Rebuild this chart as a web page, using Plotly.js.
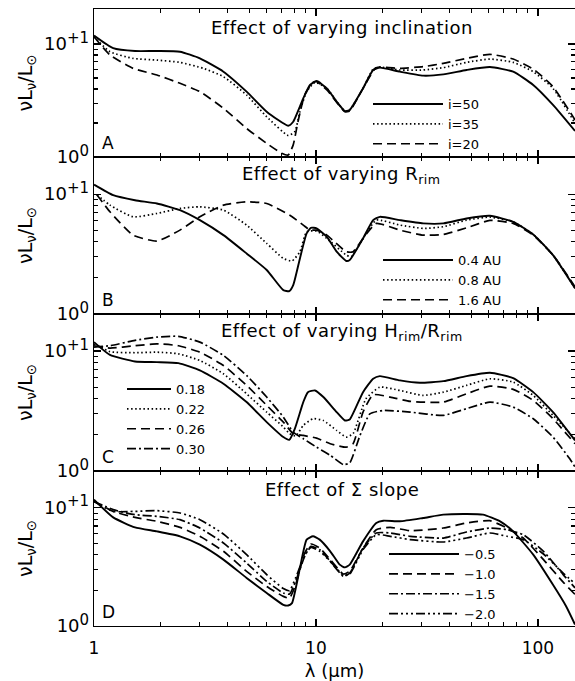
<!DOCTYPE html>
<html><head><meta charset="utf-8">
<script src="https://cdn.plot.ly/plotly-3.0.1.min.js"></script>
<style>html,body{margin:0;padding:0;background:#fff}#chart{width:575px;height:681px}</style>
</head><body><div id="chart"></div>
<script>
// ---------- Panel A: inclination ----------
const lamA50 = [1.0,1.22,1.53,1.92,2.44,3.0,3.83,4.87,6.0,7.5,7.9,8.77,9.4,10.07,11.2,12.4,13.5,14.2,16.3,18.1,19.4,23.9,30.4,37.5,47.7,60.8,77.4,95.3,117,147];
const A_i50  = [11.9,9.2,8.67,8.67,8.55,7.46,5.69,3.79,2.52,1.89,2.05,3.30,4.34,4.7,4.05,3.09,2.55,2.61,4.05,5.89,6.18,5.69,5.25,5.39,5.89,6.26,5.69,4.34,2.89,1.70];
const lamA35 = [1.0,1.18,1.5,1.92,2.44,3.11,3.83,4.87,6.0,7.5,8.03,8.47,9.08,9.9,11.2,12.4,13.5,14.2,16.3,18.1,19.4,23.9,30.4,37.5,47.7,60.8,77.4,95.3,117,147];
const A_i35  = [11.6,8.55,7.46,7.21,6.88,6.09,5.14,3.54,2.27,1.55,1.68,2.52,3.79,4.58,4.05,3.09,2.55,2.61,4.05,6.0,6.26,5.89,5.89,6.18,6.88,7.36,6.88,5.69,4.05,1.99];
const lamA20 = [1.0,1.18,1.5,1.92,2.44,3.0,3.83,4.87,6.0,7.0,7.5,7.9,8.3,8.9,9.7,10.07,11.2,13.5,14.2,16.3,18.7,23.9,30.4,37.5,47.7,60.8,77.4,95.3,117,147];
const A_i20  = [11.6,8.0,6.09,5.32,4.49,3.79,2.70,1.79,1.32,1.08,1.04,1.28,2.05,3.54,4.58,4.64,3.92,2.52,2.55,4.05,6.18,6.09,6.30,6.74,7.46,8.1,7.36,6.0,4.19,2.13];
const labelsA = ["i=50","i=35","i=20"];

// ---------- Panel B: R_rim ----------
const lamB04 = [1.0,1.22,1.53,1.92,2.44,3.0,3.83,4.87,6.0,7.13,7.58,7.9,8.47,9.08,9.5,10.07,11.2,12.4,13.7,14.2,16.3,18.1,19.4,23.9,30.4,37.5,47.7,60.8,77.4,95.3,117,147];
const B_04   = [12.0,9.8,8.9,8.36,7.36,6.07,4.55,3.2,2.33,1.58,1.55,1.74,2.91,4.7,5.24,5.18,4.41,3.31,2.77,2.82,4.27,6.07,6.47,6.07,5.70,5.70,6.27,6.6,5.88,4.61,3.10,1.64];
const lamB08 = [1.03,1.18,1.5,1.92,2.44,3.0,3.83,4.87,6.0,7.13,7.8,8.47,9.08,10.07,11.2,13.7,14.4,16.3,18.7,23.9,30.4,37.5,47.7,60.8,77.4,95.3,117,147];
const B_08   = [9.9,8.1,6.47,6.9,7.6,7.84,7.36,5.52,3.88,2.91,2.77,3.31,4.85,4.92,4.27,3.1,3.0,4.27,6.07,5.52,5.18,5.35,6.07,6.43,5.88,4.61,3.10,1.64];
const lamB16 = [1.03,1.18,1.5,1.92,2.44,3.0,3.83,4.87,6.0,7.6,8.77,9.4,10.07,11.2,13.7,14.7,16.3,18.7,23.9,30.4,37.5,47.7,60.8,77.4,95.3,117,147];
const B_16   = [9.9,7.13,4.55,4.06,5.01,6.47,8.1,8.63,8.36,6.7,5.52,5.01,5.01,4.55,3.31,3.31,4.27,5.70,5.01,4.55,4.61,5.24,6.04,5.70,4.55,3.10,1.69];
const labelsB = ["0.4 AU","0.8 AU","1.6 AU"];

// ---------- Panel C: H_rim/R_rim ----------
const lamC18 = [1.0,1.18,1.53,1.92,2.4,3.0,3.83,4.87,6.0,7.13,7.58,8.03,8.77,9.2,9.9,10.8,12.4,13.5,14.2,16.3,18.1,19.4,23.9,29.4,37.5,47.7,60.8,77.4,95.3,117,147];
const C_018  = [11.9,9.3,8.2,8.1,7.94,6.9,5.35,3.76,2.56,1.92,1.82,2.25,3.76,4.55,4.7,4.14,3.10,2.64,2.69,4.55,5.88,6.19,5.70,5.45,5.62,6.19,6.6,5.96,4.55,3.10,1.80];
const lamC22 = [1.0,1.18,1.53,1.92,2.4,3.0,3.83,4.87,6.0,7.13,7.6,8.1,8.77,9.7,10.8,12.4,13.7,14.7,16.8,19.4,23.9,30.4,37.5,47.7,60.8,77.4,95.3,117,147];
const C_022  = [11.5,9.9,9.7,9.8,9.5,8.36,6.47,4.41,3.1,2.33,2.05,1.96,2.40,2.73,2.64,2.18,1.92,2.05,4.0,5.01,4.70,4.27,4.55,5.18,5.88,5.52,4.27,2.91,1.86];
const lamC26 = [1.0,1.18,1.53,1.92,2.4,3.0,3.83,4.87,6.0,7.13,7.9,8.77,10.07,11.6,13.7,14.7,16.3,18.1,21.6,26.6,37.5,47.7,60.8,77.4,95.3,117,147];
const C_026  = [11.1,10.6,11.1,11.5,11.1,9.8,7.6,5.18,3.53,2.56,2.05,1.98,1.88,1.69,1.58,1.69,3.10,4.33,4.14,3.81,3.76,4.41,5.11,4.80,3.88,2.73,1.69];
const lamC30 = [1.0,1.18,1.53,1.92,2.4,3.0,3.83,4.87,6.0,7.13,7.9,8.77,10.07,11.6,13.3,14.2,15.8,17.5,20.1,26.6,37.5,47.7,60.8,77.4,95.3,117,139,147];
const C_030  = [10.8,11.1,12.3,13.1,13.3,11.9,9.2,6.27,4.14,2.82,2.11,1.86,1.58,1.35,1.13,1.17,1.98,3.0,3.20,3.10,2.91,3.31,3.76,3.41,2.73,1.92,1.27,1.08];
const labelsC = ["0.18","0.22","0.26","0.30"];

// ---------- Panel D: Sigma slope ----------
const lamD05 = [1.0,1.22,1.53,1.92,2.44,3.0,3.83,4.87,6.0,7.13,7.5,7.8,8.47,9.08,9.7,10.4,11.6,12.8,13.5,14.2,16.3,18.7,20.1,23.9,30.4,37.5,47.7,56.6,67.6,77.4,95.3,117,134,147];
const D_05   = [11.7,8.28,6.82,6.31,5.73,4.87,3.64,2.55,1.90,1.51,1.49,1.56,3.09,5.37,5.73,5.37,4.28,3.3,3.13,3.3,5.19,7.42,7.76,7.67,8.18,8.73,8.84,8.73,7.67,6.31,4.01,2.23,1.47,1.03];
const lamD    = [1.0,1.22,1.53,1.92,2.44,3.0,3.83,4.87,6.0,7.13,7.6,8.1,8.9,9.5,10.4,11.6,13.3,14.2,16.3,18.7,21.6,26.6,37.5,47.7,60.8,72.5,85.9,106,130,147];
const D_10   = [11.3,9.31,8.28,7.67,6.82,5.73,4.28,2.90,2.16,1.78,1.72,2.23,4.14,4.93,4.56,3.64,2.75,2.90,4.56,6.52,6.82,6.39,6.73,7.42,7.76,6.73,5.54,3.64,2.35,1.85];
const D_15   = [11.3,9.62,8.73,8.45,7.92,6.73,5.03,3.41,2.38,1.90,1.86,2.38,3.88,4.71,4.42,3.52,2.63,2.80,4.56,6.11,6.11,5.73,5.54,6.23,6.73,6.52,5.91,4.28,2.72,2.10];
const D_20   = [11.3,9.31,9.31,9.43,9.02,7.92,5.99,4.01,2.72,2.07,1.99,2.55,3.95,4.62,4.28,3.52,2.68,2.75,4.42,5.91,5.73,5.37,5.13,5.54,6.11,5.73,5.37,4.06,2.80,2.28];
const labelsD = ["\u22120.5","\u22121.0","\u22121.5","\u22122.0"];

// ---------- axis ticks ----------
const xMajor = [1,10,100];
const xMajorText = ["1","10","100"];
const xMinor = [2,3,4,5,6,7,8,9,20,30,40,50,60,70,80,90];
const yMajor = [1,10];
const yMajorText = ["10<sup><span style=\"font-size:15px\">0</span></sup>","10<sup><span style=\"font-size:15px\">+1</span></sup>"];
const yMinor = [2,3,4,5,6,7,8,9];

const titles = ["Effect of varying inclination","Effect of varying R<sub>rim</sub>","Effect of varying H<sub>rim</sub>/R<sub>rim</sub>","Effect of \u03A3 slope"];
const letters = ["A","B","C","D"];

// ---------- styles ----------
const FONT = "DejaVu Sans, Verdana, sans-serif";
const DASH = {
  solid: "solid",
  dot: "1.5px,2.6px",
  dash: "9px,5px",
  dashdot: "9px,3px,2px,3px",
  dash3dot: "9px,3px,2px,3px,2px,3px,2px,3px"
};

const panels = [
  {series:[[lamA50,A_i50,"solid"],[lamA35,A_i35,"dot"],[lamA20,A_i20,"dash"]], labels:labelsA},
  {series:[[lamB04,B_04,"solid"],[lamB08,B_08,"dot"],[lamB16,B_16,"dash"]], labels:labelsB},
  {series:[[lamC18,C_018,"solid"],[lamC22,C_022,"dot"],[lamC26,C_026,"dash"],[lamC30,C_030,"dashdot"]], labels:labelsC},
  {series:[[lamD05,D_05,"solid"],[lamD,D_10,"dash"],[lamD,D_15,"dashdot"],[lamD,D_20,"dash3dot"]], labels:labelsD}
];

const H = 617;
const domains = [[469/H,1],[312/H,469/H],[155/H,312/H],[0,155/H]];
const legendPos = [
  {x:(368-94)/481, y:(626-124)/H, w:70},
  {x:(378-94)/481, y:(626-280)/H, w:70},
  {x:(122-94)/481, y:(626-419)/H, w:44},
  {x:(384-94)/481, y:(626-584)/H, w:70}
];

const traces = [];
const layout = {
  width:575, height:681,
  margin:{l:94, r:0, t:9, b:55},
  paper_bgcolor:"#fff", plot_bgcolor:"#fff",
  font:{family:FONT, color:"#000", size:16},
  showlegend:true,
  annotations:[]
};

panels.forEach((p, i) => {
  const s = i === 0 ? "" : String(i+1);
  const lg = i === 0 ? "legend" : "legend"+(i+1);
  p.series.forEach((sr, k) => {
    traces.push({
      type:"scatter", mode:"lines",
      x:sr[0], y:sr[1],
      xaxis:"x"+s, yaxis:"y"+s,
      name:p.labels[k], legend:lg,
      line:{color:"#000", width: sr[2]==="solid" ? 1.9 : 1.7, dash:DASH[sr[2]], shape:"spline", smoothing:0.5},
      hoverinfo:"skip"
    });
  });
  const lp = legendPos[i];
  layout[lg] = {
    x:lp.x, y:lp.y, xanchor:"left", yanchor:"middle", xref:"paper", yref:"paper",
    bgcolor:"rgba(0,0,0,0)", borderwidth:0, itemwidth:lp.w,
    font:{family:FONT, size:13, color:"#000"}, tracegroupgap:0
  };
  layout["xaxis"+s] = {
    type:"log", range:[0, Math.log10(147)], domain:[0,1], anchor:"y"+s,
    showline:true, linecolor:"#000", linewidth:1.3, mirror:"allticks",
    ticks:"inside", ticklen:7, tickwidth:1.3, tickcolor:"#000",
    tickmode:"array", tickvals:xMajor, ticktext:xMajorText,
    minor:{tickmode:"array", tickvals:xMinor, ticks:"inside", ticklen:4, tickwidth:1.1, tickcolor:"#000", showgrid:false},
    showgrid:false, zeroline:false,
    showticklabels: i === 3,
    tickfont:{family:FONT, size:17, color:"#000"},
    ticklabelstandoff: 6,
    title: i === 3 ? {text:"\u03BB (\u03BCm)", font:{family:FONT, size:18, color:"#000"}, standoff:10} : {text:""}
  };
  if (i !== 0) layout["xaxis"+s].matches = "x";
  layout["yaxis"+s] = {
    type:"log", range:[0, 1.31], domain:domains[i], anchor:"x"+s,
    showline:true, linecolor:"#000", linewidth:1.3, mirror:"allticks",
    ticks:"inside", ticklen:7, tickwidth:1.3, tickcolor:"#000",
    tickmode:"array", tickvals:yMajor, ticktext:yMajorText,
    minor:{tickmode:"array", tickvals:yMinor, ticks:"inside", ticklen:4, tickwidth:1.1, tickcolor:"#000", showgrid:false},
    showgrid:false, zeroline:false,
    tickfont:{family:FONT, size:18, color:"#000"},
    title:{text:"\u03BDL<sub>\u03BD</sub>/L<sub>\u2299</sub>", font:{family:FONT, size:19, color:"#000"}, standoff:6}
  };
  layout.annotations.push({
    xref:"x"+s+" domain", yref:"y"+s+" domain", x:0.5, y:1, xanchor:"center", yanchor:"middle",
    xshift:7, yshift:-18, showarrow:false,
    text:"<span style=\"letter-spacing:0.5px\">" + titles[i] + "</span>",
    font:{family:FONT, size:18, color:"#000"}
  });
  layout.annotations.push({
    xref:"x"+s+" domain", yref:"y"+s+" domain", x:0, y:0, xanchor:"center", yanchor:"middle",
    xshift:14, yshift:14, showarrow:false, text:letters[i],
    font:{family:FONT, size:17, color:"#000"}
  });
});

Plotly.newPlot("chart", traces, layout, {displayModeBar:false, staticPlot:true});
</script>
</body></html>
